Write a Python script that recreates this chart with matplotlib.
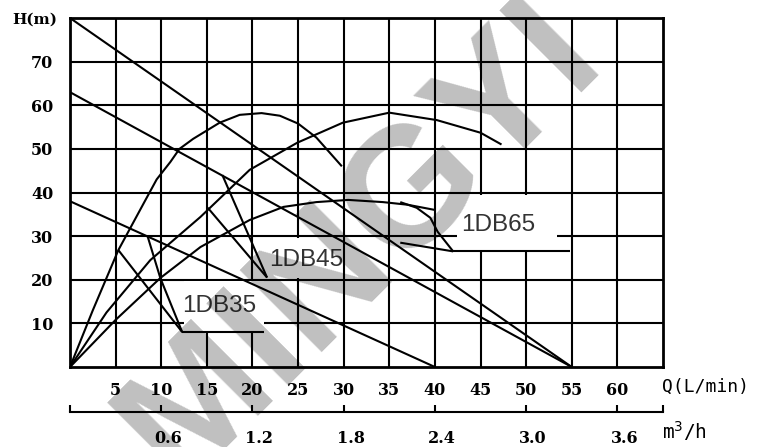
import matplotlib.pyplot as plt
from matplotlib.patches import Rectangle
import matplotlib.transforms as mtransforms

# axis ticks
q_ticks = [5, 10, 15, 20, 25, 30, 35, 40, 45, 50, 55, 60]
h_ticks = [10, 20, 30, 40, 50, 60, 70]
m3h_ticks = [0.6, 1.2, 1.8, 2.4, 3.0, 3.6]

# straight H-Q lines
line1_q = [0, 55]
line1_h = [80, 0]
line2_q = [0, 55]
line2_h = [63, 0]
line3_q = [0, 40]
line3_h = [38, 0]

# arcs starting at the origin
arc_a_q = [0, 2.5, 5.3, 8.2, 9.5, 11, 12, 13.5, 16.4, 18.6, 21, 23, 25, 27, 29.8]
arc_a_h = [0, 13, 26.8, 38, 43, 47, 50, 52.3, 56, 57.8, 58.2, 57.6, 55.8, 52.6, 46]
arc_b_q = [0, 4, 8.8, 14.3, 19.7, 24.9, 29.9, 35, 40.2, 45, 47.3]
arc_b_h = [0, 12.5, 24.5, 34.4, 45.2, 51.4, 56, 58.3, 56.6, 53.7, 51]
arc_c_q = [0, 5, 9.9, 14.3, 19.7, 23.4, 27, 30.5, 34.3, 37, 40]
arc_c_h = [0, 10.8, 20.4, 27.5, 33.7, 36.7, 37.8, 38.3, 37.8, 37.2, 36]

# label leaders
lead35_a_q = [5.3, 12.3]
lead35_a_h = [26.8, 8]
lead35_b_q = [8.5, 9.9, 12.3]
lead35_b_h = [30, 20.4, 8]
lead35_c_q = [12.3, 21.3]
lead35_c_h = [8, 8]
lead45_a_q = [16.7, 21.6]
lead45_a_h = [44, 20.5]
lead45_b_q = [15.1, 21.6]
lead45_b_h = [36.5, 20.5]
lead65_a_q = [36.2, 38, 39.5, 40.3, 42]
lead65_a_h = [37.8, 36.5, 34.2, 31, 26.5]
lead65_b_q = [36.2, 42]
lead65_b_h = [28.5, 26.5]
lead65_c_q = [42, 54.8]
lead65_c_h = [26.5, 26.5]

labels = ['1DB35', '1DB45', '1DB65']
label_q = [16.4, 25.9, 46.9]
label_h = [14.0, 24.5, 32.5]

fig = plt.figure(figsize=(7.63, 4.47), dpi=100)
ax = fig.add_axes([70 / 763, 80 / 447, 593 / 763, 349 / 447])
ax.set_xlim(0, 65)
ax.set_ylim(0, 80)

serif = 'DejaVu Serif'
ax.set_xticks(q_ticks)
ax.set_xticklabels([str(v) for v in q_ticks], fontfamily=serif, fontweight='bold', fontsize=11.5)
ax.set_yticks(h_ticks)
ax.set_yticklabels([str(v) for v in h_ticks], fontfamily=serif, fontweight='bold', fontsize=11.5)
ax.tick_params(axis='x', length=0, pad=11)
ax.tick_params(axis='y', length=0, pad=12)
ax.grid(True, color='black', lw=1.5, zorder=1)
ax.set_axisbelow(True)
for s in ax.spines.values():
    s.set_linewidth(2)
    s.set_zorder(5)

# white boxes behind labels
boxes = [(12.5, 8.3, 8.8, 11.4), (22, 20.5, 7.5, 9), (42.4, 26.8, 11, 12.7)]
for x0, y0, w, h in boxes:
    ax.add_patch(Rectangle((x0, y0), w, h, facecolor='white', edgecolor='none', zorder=2))

lw = 1.5
for qq, hh in [(line1_q, line1_h), (line2_q, line2_h), (line3_q, line3_h),
               (arc_a_q, arc_a_h), (arc_b_q, arc_b_h), (arc_c_q, arc_c_h),
               (lead35_a_q, lead35_a_h), (lead35_b_q, lead35_b_h), (lead35_c_q, lead35_c_h),
               (lead45_a_q, lead45_a_h), (lead45_b_q, lead45_b_h),
               (lead65_a_q, lead65_a_h), (lead65_b_q, lead65_b_h), (lead65_c_q, lead65_c_h)]:
    ax.plot(qq, hh, color='black', lw=lw, zorder=3, solid_capstyle='butt')

for t, x, y in zip(labels, label_q, label_h):
    ax.text(x, y, t, ha='center', va='center', fontsize=17.5, color='#333333',
            family='Liberation Sans', zorder=4)

# second axis in m3/h
sec = ax.secondary_xaxis(-0.129, functions=(lambda q: q * 0.06, lambda m: m / 0.06))
sec.set_xticks([0] + m3h_ticks + [3.9])
sec.set_xticklabels([''] + ['%.1f' % v for v in m3h_ticks] + [''],
                    fontfamily=serif, fontweight='bold', fontsize=11.5)
sec.tick_params(direction='in', length=5, width=1.5, pad=13)
sec.spines['bottom'].set_linewidth(1.5)
off = mtransforms.ScaledTranslation(7 / 100, 0, fig.dpi_scale_trans)
for lab in sec.get_xticklabels():
    lab.set_transform(lab.get_transform() + off)

fig.text(12 / 763, 1 - 20 / 447, 'H(m)', ha='left', va='center', fontfamily=serif,
         fontweight='bold', fontsize=11)
fig.text(662 / 763, 1 - 387 / 447, 'Q(L/min)', ha='left', va='center',
         fontfamily='DejaVu Sans Mono', fontsize=13)
fig.text(662 / 763, 1 - 431 / 447, 'm$^3$/h', ha='left', va='center',
         fontfamily='DejaVu Sans Mono', fontsize=14)

# watermark
fig.text(360 / 763, 1 - 240 / 447, 'MINGYI', ha='center', va='center', rotation=45,
         rotation_mode='anchor', fontsize=122, fontweight='bold',
         family='Liberation Sans', color='black', alpha=0.25, zorder=10)

fig.savefig('out.png', dpi=100)
